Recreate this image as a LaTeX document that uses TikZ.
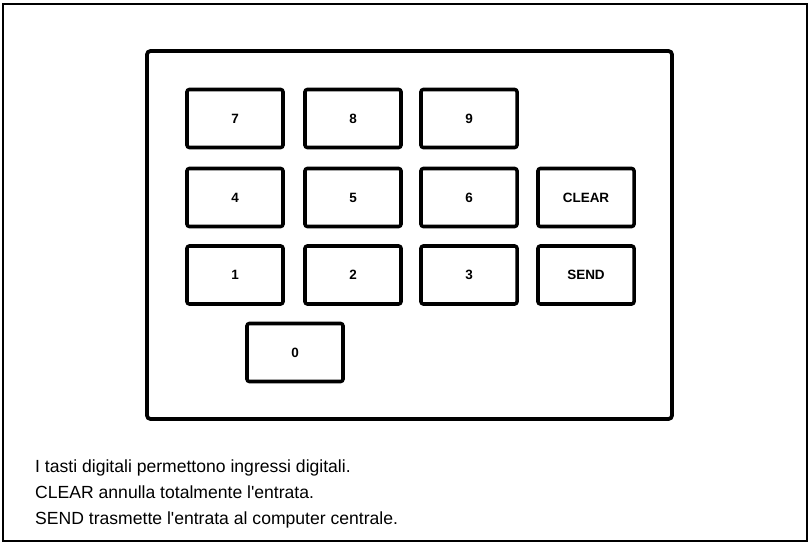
\documentclass[tikz,border=0pt]{standalone}
\usepackage{fontspec}
\setmainfont{Liberation Sans}
\usepackage{tikz}
\usetikzlibrary{positioning}

\begin{document}
\begin{tikzpicture}[x=0.03cm,y=-0.03cm,
    key/.style={draw,line width=3pt,rounded corners=2pt,minimum width=2.88cm,minimum height=1.74cm,
      inner sep=0pt,font=\fontsize{11.5}{13}\selectfont\bfseries},
    note/.style={anchor=base west,inner sep=0pt,font=\fontsize{15}{18}\selectfont}]
  \useasboundingbox (0,0) rectangle (810,543);
  \draw[line width=1.6pt] (3,4) rectangle (807,541);
  \draw[line width=3.2pt,rounded corners=3pt] (147,51) rectangle (672,419);
  % keys
  \node[key] (k7) at (235,118.5) {7};
  \node[key] (k8) at (353,118.5) {8};
  \node[key] (k9) at (469,118.5) {9};
  \node[key] (k4) at (235,197.5) {4};
  \node[key] (k5) at (353,197.5) {5};
  \node[key] (k6) at (469,197.5) {6};
  \node[key] (clear) at (586,197.5) {CLEAR};
  \node[key] (k1) at (235,275) {1};
  \node[key] (k2) at (353,275) {2};
  \node[key] (k3) at (469,275) {3};
  \node[key] (send) at (586,275) {SEND};
  \node[key] (k0) at (295,352.5) {0};
  % notes
  \node[note] (n1) at (35,472) {I tasti digitali permettono ingressi digitali.};
  \node[note] (n2) at (35,498) {CLEAR annulla totalmente l\textquotesingle entrata.};
  \node[note] (n3) at (35,524) {SEND trasmette l\textquotesingle entrata al computer centrale.};
\end{tikzpicture}
\end{document}
